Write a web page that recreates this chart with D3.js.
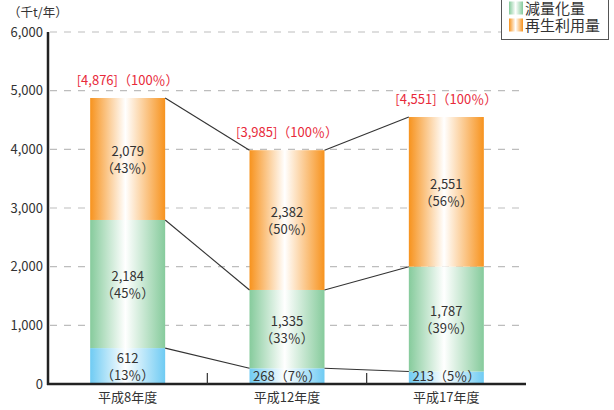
<!DOCTYPE html>
<html><head><meta charset="utf-8">
<script src="https://cdn.jsdelivr.net/npm/d3@7"></script>
<style>
html,body{margin:0;padding:0;background:#fff;}
text{font-family:"Noto Sans CJK JP","Noto Sans",sans-serif;}
</style></head>
<body>
<svg id="c" width="614" height="410"></svg>
<script>
const categories = ["平成8年度", "平成12年度", "平成17年度"];
const legendNames = ["減量化量", "再生利用量"];
const finalDisposal = [612, 268, 213];
const reduction = [2184, 1335, 1787];
const recycling = [2079, 2382, 2551];
const finalPct = [13, 7, 5];
const reductionPct = [45, 33, 39];
const recyclingPct = [43, 50, 56];
const totals = [4876, 3985, 4551];
const yTicks = [0, 1000, 2000, 3000, 4000, 5000, 6000];

const svg = d3.select("#c");
const colors = ["#6fcbf3", "#86cb9c", "#f7931e"];
const defs = svg.append("defs");
colors.forEach((c, i) => {
  const g = defs.append("linearGradient").attr("id", "g" + i).attr("x1", "0").attr("x2", "1").attr("y1", "0").attr("y2", "0");
  g.append("stop").attr("offset", "0").attr("stop-color", c);
  g.append("stop").attr("offset", "0.47").attr("stop-color", "#ffffff");
  g.append("stop").attr("offset", "1").attr("stop-color", c);
});

const x0 = 48, x1 = 526, yTop = 32, yBot = 384;
const x = d3.scaleBand().domain(categories).range([x0, x1]).padding(0);
const y = d3.scaleLinear().domain([0, 6000]).range([yBot, yTop]);
const barW = 75;
const bx = c => x(c) + (x.bandwidth() - barW) / 2;

// grid
svg.append("g").selectAll("line").data(yTicks.filter(d => d > 0)).join("line")
  .attr("x1", x0 + 2).attr("x2", x1).attr("y1", d => y(d)).attr("y2", d => y(d))
  .attr("stroke", "#bdbdbd").attr("stroke-width", 1.2).attr("stroke-dasharray", "7,7");

// y axis labels
const yAxis = d3.axisLeft(y).tickValues(yTicks).tickFormat(d3.format(",")).tickSize(0).tickPadding(5);
const ga = svg.append("g").attr("transform", `translate(${x0},0)`).call(yAxis);
ga.select(".domain").remove();
ga.selectAll("text").attr("font-size", 13).attr("fill", "#333").attr("font-family", '"Noto Sans CJK JP",sans-serif');

svg.append("text").attr("x", 8).attr("y", 17).attr("font-size", 12.5).attr("fill", "#333").text("（千t/年）");

// stacked data
const rows = categories.map((c, i) => ({cat: c, s0: finalDisposal[i], s1: reduction[i], s2: recycling[i]}));
const stack = d3.stack().keys(["s0", "s1", "s2"])(rows);
const pcts = [finalPct, reductionPct, recyclingPct];

stack.forEach((layer, li) => {
  svg.append("g").selectAll("rect").data(layer).join("rect")
    .attr("x", d => bx(d.data.cat)).attr("width", barW)
    .attr("y", d => y(d[1])).attr("height", d => y(d[0]) - y(d[1]))
    .attr("fill", `url(#g${li})`);
});

// connector lines
stack.forEach(layer => {
  for (let i = 0; i < categories.length - 1; i++) {
    svg.append("line")
      .attr("x1", bx(categories[i]) + barW).attr("y1", y(layer[i][1]))
      .attr("x2", bx(categories[i + 1])).attr("y2", y(layer[i + 1][1]))
      .attr("stroke", "#333").attr("stroke-width", 1.1);
  }
});

// segment labels
stack.forEach((layer, li) => {
  layer.forEach((d, i) => {
    const cx = x(d.data.cat) + x.bandwidth() / 2;
    const v = d[1] - d[0];
    const h = y(d[0]) - y(d[1]);
    const val = d3.format(",")(v);
    const p = `（${pcts[li][i]}％）`;
    if (h > 30) {
      const mid = (y(d[0]) + y(d[1])) / 2;
      const t = svg.append("text").attr("x", cx).attr("y", mid - 3).attr("text-anchor", "middle")
        .attr("font-size", 13).attr("fill", "#333");
      t.append("tspan").attr("x", cx).text(val);
      t.append("tspan").attr("x", cx).attr("dy", 17).text(p);
    } else {
      svg.append("text").attr("x", cx).attr("y", yBot - 3).attr("text-anchor", "middle")
        .attr("font-size", 13).attr("fill", "#333").text(val + p);
    }
  });
});

// totals
categories.forEach((c, i) => {
  const top = stack[2][i][1];
  svg.append("text").attr("x", x(c) + x.bandwidth() / 2).attr("y", y(top) - 13)
    .attr("text-anchor", "middle").attr("font-size", 13).attr("fill", "#e8293a")
    .text(`[${d3.format(",")(totals[i])}]（100％）`);
});

// baseline, y axis, category ticks
svg.append("line").attr("x1", x0).attr("x2", x0).attr("y1", yTop).attr("y2", yBot + 1)
  .attr("stroke", "#222").attr("stroke-width", 2.5);
svg.append("line").attr("x1", x0 - 1).attr("x2", x1).attr("y1", yBot).attr("y2", yBot)
  .attr("stroke", "#222").attr("stroke-width", 2.5);
categories.slice(1).forEach(c => {
  svg.append("line").attr("x1", x(c)).attr("x2", x(c)).attr("y1", yBot - 11).attr("y2", yBot)
    .attr("stroke", "#333").attr("stroke-width", 1.2);
});

const xAxis = d3.axisBottom(x).tickSize(0).tickPadding(9);
const gx = svg.append("g").attr("transform", `translate(0,${yBot})`).call(xAxis);
gx.select(".domain").remove();
gx.selectAll("text").attr("font-size", 13).attr("fill", "#333").attr("font-family", '"Noto Sans CJK JP",sans-serif');

// legend (top of box is cut off by the picture's edge, as in the reference)
const lg = svg.append("g");
lg.append("rect").attr("x", 501.5).attr("y", -10).attr("width", 107).attr("height", 49.5)
  .attr("fill", "#fff").attr("stroke", "#555").attr("stroke-width", 1);
legendNames.forEach((n, i) => {
  const yy = 1.5 + i * 17;
  lg.append("rect").attr("x", 509).attr("y", yy).attr("width", 14).attr("height", 13)
    .attr("fill", `url(#g${i + 1})`);
  lg.append("text").attr("x", 525).attr("y", yy + 12.5).attr("font-size", 15).attr("fill", "#333").text(n);
});
</script>
</body></html>
